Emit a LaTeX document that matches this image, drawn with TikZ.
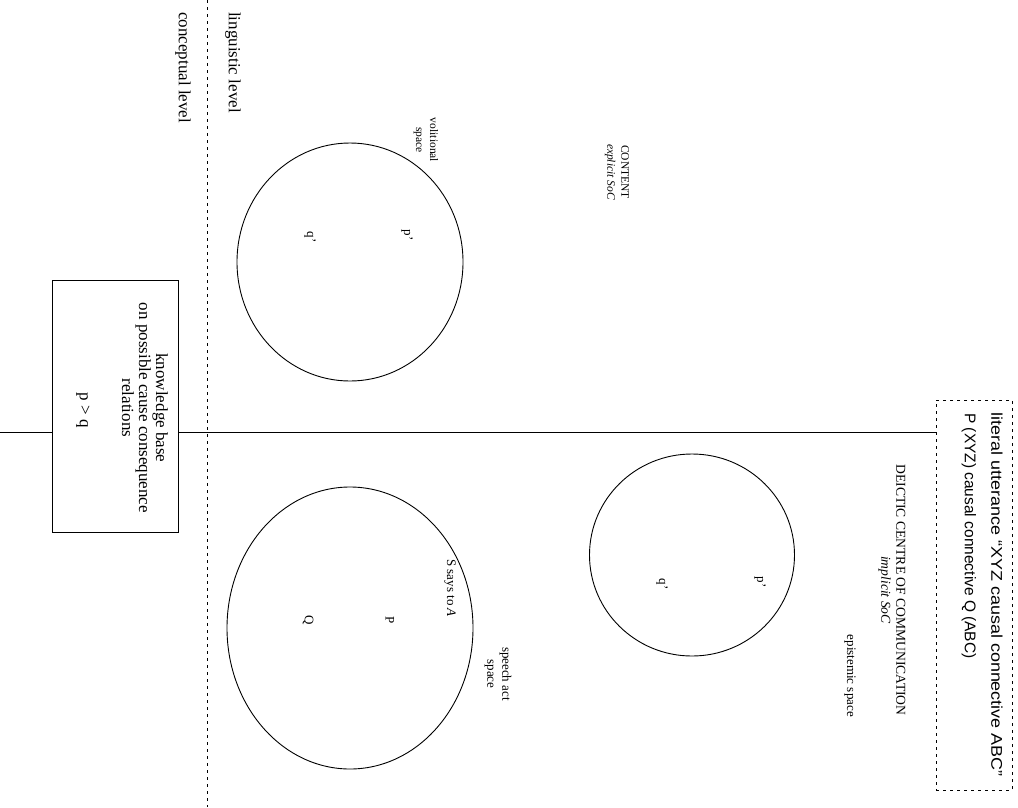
\documentclass[tikz,border=0pt]{standalone}
\usepackage{graphicx}
\usepackage{fontspec}
\setmainfont{Liberation Serif}
\newfontfamily\arialfont{Liberation Sans}
\usetikzlibrary{shapes.geometric}
\begin{document}
\begin{tikzpicture}[x=1pt,y=-1pt,
  lbl/.style={rotate=-90, inner sep=0pt, align=center},
  space/.style={draw, ellipse, line width=0.9pt, inner sep=0pt},
  dots/.style={dash pattern=on 3pt off 4pt, line width=0.8pt},
  solid line/.style={line width=0.9pt},
  big/.style={font=\fontsize{17}{17}\selectfont},
  mid/.style={font=\fontsize{13}{15}\selectfont},
  small/.style={font=\fontsize{11.5}{14}\selectfont},
  sans/.style={font=\arialfont\fontsize{15.5}{15.5}\selectfont},
  ]
\useasboundingbox (0,0) rectangle (1018,807);

% level divider
\coordinate (dtop) at (207,0);
\coordinate (dbot) at (207,807);
\draw[dots] (dtop) -- (dbot);
\node[lbl, big, anchor=west] (ling) at (233,12) {linguistic level};
\node[lbl, big, anchor=west] (conc) at (183,12) {conceptual level};

% knowledge base box
\node[draw, solid line, minimum width=126pt, minimum height=252pt] (kb) at (115,406) {};
\node[lbl, big] (kbt) at (145,408) {knowledge base\\on possible cause consequence\\relations};
\node[lbl, big] (pq) at (83,410) {p \textgreater{} q};

% literal utterance box
\node[draw, dots, minimum width=76pt, minimum height=390pt] (lit) at (974,595) {};
\node[lbl, anchor=west, sans] (lit1) at (997,412) {\scalebox{1.16}[1]{literal utterance “XYZ causal connective ABC”}};
\node[lbl, anchor=west, sans] (lit2) at (969,413) {P (XYZ) causal connective Q (ABC)};

% main horizontal line
\coordinate (lend) at (0,432);
\draw[solid line] (lend) -- (kb.west |- lend);
\draw[solid line] (kb.east |- lend) -- (lit.west |- lend);

% content side
\node[lbl, small] (content) at (617,172) {CONTENT\\\textit{explicit SoC}};
\node[space, minimum width=226pt, minimum height=238pt] (vol) at (350,262) {};
\node[lbl, small] (volt) at (426,140) {volitional\\space};
\node[lbl, mid] (vp) at (407,235) {p’};
\node[lbl, mid] (vq) at (310,237) {q’};

% deictic side
\node[lbl, font=\fontsize{13.6}{15}\selectfont] (deictic) at (892,590) {DEICTIC CENTRE OF COMMUNICATION\\\textit{implicit SoC}};
\node[space, minimum width=205pt, minimum height=202pt] (epi) at (692,555) {};
\node[lbl, mid, anchor=east] (epit) at (850,717) {epistemic space};
\node[lbl, mid] (ep) at (760,582) {p’};
\node[lbl, mid] (eq) at (662,584) {q’};

\node[space, minimum width=246pt, minimum height=282pt] (sa) at (350,628) {};
\node[lbl, mid] (sat) at (498,674) {speech act\\space};
\node[lbl, mid] (says) at (450,588) {S says to \textit{A}};
\node[lbl, mid] (sp) at (390,620) {P};
\node[lbl, mid] (sq) at (308,620) {Q};
\end{tikzpicture}
\end{document}
